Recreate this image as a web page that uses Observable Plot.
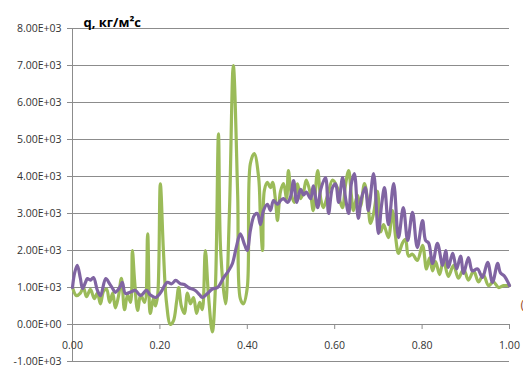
<!DOCTYPE html>
<html><head><meta charset="utf-8">
<script src="https://cdn.jsdelivr.net/npm/d3@7"></script>
<script src="https://cdn.jsdelivr.net/npm/@observablehq/plot@0.6"></script>
<style>
body{margin:0;background:#fff}
#chart svg{font-family:"Open Sans",sans-serif;}
</style>
</head><body><div id="chart"></div>
<script>
// Green series (position fraction, q)
const greenX = [0.000,0.009,0.018,0.025,0.032,0.041,0.050,0.057,0.064,0.071,0.078,0.085,0.092,0.098,0.105,0.112,0.119,0.126,0.133,0.137,0.142,0.149,0.156,0.165,0.172,0.178,0.185,0.190,0.195,0.201,0.208,0.215,0.224,0.231,0.238,0.243,0.249,0.256,0.263,0.270,0.277,0.284,0.291,0.297,0.304,0.311,0.320,0.327,0.334,0.339,0.350,0.359,0.368,0.378,0.384,0.391,0.400,0.407,0.416,0.426,0.430,0.435,0.439,0.446,0.453,0.458,0.465,0.469,0.476,0.483,0.490,0.494,0.501,0.508,0.515,0.522,0.529,0.535,0.545,0.551,0.561,0.568,0.574,0.584,0.595,0.606,0.613,0.618,0.625,0.632,0.638,0.643,0.652,0.659,0.668,0.675,0.682,0.689,0.698,0.705,0.712,0.723,0.732,0.739,0.746,0.755,0.762,0.769,0.778,0.789,0.801,0.810,0.817,0.824,0.831,0.840,0.849,0.860,0.872,0.883,0.895,0.906,0.918,0.929,0.940,0.952,0.963,0.975,0.986,1.000];
const greenY = [1000,780,850,1000,750,950,700,850,560,900,950,600,850,450,750,1250,400,800,600,2000,1200,380,800,600,2450,300,700,500,800,3800,2000,600,0,100,600,1000,500,300,850,560,730,300,600,400,2000,800,-200,1000,5150,2000,560,3000,7000,3500,700,560,1000,4350,4620,3970,2900,2000,3620,3840,3700,3840,3300,2810,3600,3810,3400,4160,3500,3300,3800,3400,3600,3900,3500,3080,4160,3400,3160,3500,3900,3700,3300,3160,3800,4160,3500,3080,3500,3200,3810,3400,2730,3000,3600,2500,2700,2350,3080,2400,1920,2200,2300,1850,1900,1730,2140,1500,1800,1450,1700,1350,1750,1300,1600,1250,1500,1200,1450,1150,1350,1050,1150,1000,1050,1050];
// Purple series
const purpleX = [0.000,0.005,0.011,0.018,0.023,0.030,0.034,0.041,0.048,0.057,0.064,0.076,0.085,0.092,0.098,0.108,0.114,0.121,0.133,0.144,0.156,0.169,0.178,0.190,0.201,0.217,0.227,0.236,0.247,0.256,0.265,0.281,0.291,0.297,0.309,0.320,0.332,0.346,0.357,0.366,0.375,0.384,0.394,0.400,0.407,0.416,0.423,0.430,0.437,0.446,0.453,0.460,0.469,0.476,0.483,0.492,0.499,0.506,0.513,0.522,0.529,0.535,0.545,0.551,0.561,0.568,0.579,0.586,0.595,0.602,0.609,0.618,0.625,0.632,0.638,0.645,0.654,0.661,0.670,0.677,0.689,0.700,0.707,0.714,0.723,0.735,0.746,0.757,0.767,0.778,0.789,0.801,0.808,0.815,0.824,0.835,0.847,0.854,0.860,0.870,0.879,0.888,0.895,0.906,0.915,0.927,0.938,0.950,0.961,0.973,0.979,0.989,1.000];
const purpleY = [1000,1400,1600,1250,970,1150,1240,1200,1270,920,780,1240,1100,970,870,1000,1140,840,880,920,780,920,800,730,850,1140,1100,1190,1100,1080,1000,920,800,730,840,960,1000,1270,1450,1650,2100,2450,2150,2000,2540,2950,3000,2700,3080,3250,3080,3350,3250,3350,3400,3300,3450,3890,3300,3650,3500,3580,3400,3750,3160,3650,3970,3000,3700,3800,3300,3970,3400,3000,3800,4080,2870,3400,3700,3080,4080,2460,3200,3700,2700,3810,2350,3160,2270,3030,2080,2810,2270,2200,1650,2190,1600,2000,1540,1920,1500,1850,1380,1810,1450,1500,1270,1680,1140,1650,1400,1300,1050];

const xTicks = [0, 0.2, 0.4, 0.6, 0.8, 1.0];
const yTicks = [-1000, 0, 1000, 2000, 3000, 4000, 5000, 6000, 7000, 8000];
const titleText = "q, кг/м²с";
const cutLabel = "(";

const green = greenX.map((x, i) => ({x, y: greenY[i]}));
const purple = purpleX.map((x, i) => ({x, y: purpleY[i]}));

function sci(v) {
  const [m, e] = v.toExponential(2).split("e");
  return m + "E" + e[0] + e.slice(1).padStart(2, "0");
}

const gridColor = "#8c8c8c";
const chart = Plot.plot({
  width: 523,
  height: 369,
  marginLeft: 72,
  marginRight: 14,
  marginTop: 28,
  marginBottom: 8,
  style: {fontFamily: "'Open Sans', sans-serif", background: "#fff"},
  x: {domain: [0, 1], axis: null},
  y: {domain: [-1000, 8000], axis: null},
  marks: [
    Plot.gridY(yTicks, {stroke: gridColor, strokeOpacity: 1, strokeWidth: 1}),
    Plot.ruleX([0], {stroke: gridColor, strokeWidth: 1}),
    Plot.ruleX(xTicks, {x: d => d, y1: 0, y2: 0, insetBottom: -5, stroke: gridColor}),
    Plot.axisY(yTicks, {tickFormat: sci, tickSize: 5, tickPadding: 6, stroke: gridColor, fill: "#333", fontSize: 10.5, label: null}),
    Plot.text(xTicks, {x: d => d, y: 0, dy: 21, text: d => d.toFixed(2), fill: "#333", fontSize: 10.5}),
    Plot.line(green, {x: "x", y: "y", stroke: "#9BBB59", strokeWidth: 3.2, curve: "catmull-rom"}),
    Plot.line(purple, {x: "x", y: "y", stroke: "#8064A2", strokeWidth: 3.2, curve: "catmull-rom"}),
    Plot.text([titleText], {frameAnchor: "top-left", dx: 11, dy: -11, text: d => d, textAnchor: "start", fontWeight: "bold", fontSize: 13, fill: "#000"}),
    Plot.text([cutLabel], {frameAnchor: "bottom-right", dx: 11, dy: -53, text: d => d, textAnchor: "start", fontSize: 13, fill: "#a0522d"})
  ]
});
document.getElementById("chart").appendChild(chart);
</script>
</body></html>
